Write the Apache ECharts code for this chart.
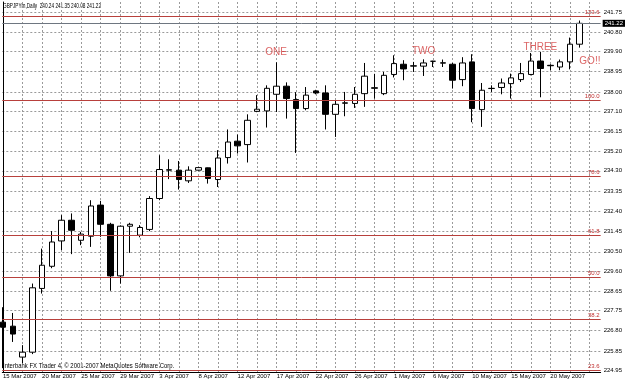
<!DOCTYPE html>
<html><head><meta charset="utf-8">
<script src="https://cdn.jsdelivr.net/npm/echarts@6/dist/echarts.min.js"></script>
<style>html,body{margin:0;padding:0;background:#fff}#c{width:625px;height:384px}</style>
</head><body><div id="c"></div>
<script>
const dates = ['15 Mar 2007','16 Mar 2007','18 Mar 2007','19 Mar 2007','20 Mar 2007','21 Mar 2007','22 Mar 2007','23 Mar 2007','25 Mar 2007','26 Mar 2007','27 Mar 2007','28 Mar 2007','29 Mar 2007','30 Mar 2007',
'1 Apr 2007','2 Apr 2007','3 Apr 2007','4 Apr 2007','5 Apr 2007','6 Apr 2007','8 Apr 2007','9 Apr 2007','10 Apr 2007','11 Apr 2007','12 Apr 2007','13 Apr 2007','15 Apr 2007','16 Apr 2007','17 Apr 2007','18 Apr 2007','19 Apr 2007','20 Apr 2007','22 Apr 2007','23 Apr 2007','24 Apr 2007','25 Apr 2007','26 Apr 2007','27 Apr 2007','29 Apr 2007','30 Apr 2007',
'1 May 2007','2 May 2007','3 May 2007','4 May 2007','6 May 2007','7 May 2007','8 May 2007','9 May 2007','10 May 2007','11 May 2007','13 May 2007','14 May 2007','15 May 2007','16 May 2007','17 May 2007','18 May 2007','20 May 2007','21 May 2007','22 May 2007','23 May 2007'];
const opens  = [227.20,227.01,225.56,225.79,228.78,229.82,231.01,231.98,231.04,231.23,232.69,231.79,229.37,231.70,231.28,231.55,233.00,234.33,234.33,233.83,234.33,234.44,233.89,234.92,235.69,235.53,237.09,237.11,237.89,238.27,237.64,237.22,238.05,237.95,236.95,237.47,237.46,237.92,238.17,237.92,238.82,239.30,239.21,239.21,239.44,239.35,239.30,238.58,239.41,237.17,238.16,238.21,238.39,238.58,238.82,239.45,239.25,239.17,239.41,240.24];
const highs  = [227.90,227.63,226.12,229.01,230.65,231.47,232.22,232.30,231.43,232.92,232.89,231.86,231.74,231.86,231.75,233.11,235.03,234.84,234.76,234.51,234.47,234.45,235.27,236.24,236.00,236.95,237.85,238.31,239.39,238.45,237.99,238.23,238.10,238.31,237.61,238.00,238.23,239.36,238.85,238.94,239.72,239.49,239.41,239.53,239.46,239.52,239.36,239.63,239.77,238.42,238.31,238.63,238.86,239.36,239.83,239.88,239.30,239.52,240.55,241.35];
const lows   = [225.04,226.27,225.27,225.70,228.54,229.73,230.58,230.39,230.81,230.73,231.20,228.67,229.01,230.45,231.18,231.47,232.92,233.91,233.42,233.73,234.31,233.70,233.54,234.64,235.11,234.69,237.05,236.33,237.06,236.75,235.14,237.14,237.89,236.24,235.89,236.86,237.25,237.30,237.69,237.85,238.68,238.55,238.94,238.75,239.17,239.17,238.16,238.27,236.58,236.36,238.00,237.89,237.69,238.47,238.78,237.75,239.02,239.02,239.06,240.08];
const closes = [226.96,226.64,225.79,228.81,229.87,230.96,231.98,231.51,231.33,232.65,231.79,229.37,231.70,231.79,231.64,233.00,234.36,234.35,233.89,234.33,234.45,233.94,234.90,235.65,235.47,236.67,237.19,238.17,238.27,237.69,237.22,237.85,237.95,236.95,237.42,237.49,237.89,238.74,238.20,238.78,239.33,239.08,239.23,239.36,239.44,239.37,238.55,239.36,237.22,238.08,238.17,238.42,238.66,238.86,239.45,239.10,239.23,239.41,240.24,241.22];
const priceTicks = [224.95,225.85,226.80,227.75,228.65,229.60,230.50,231.45,232.40,233.35,234.30,235.20,236.15,237.10,238.00,238.95,239.90,240.80,241.75];
const dateLabelIdx = [0,4,8,12,16,20,24,28,32,36,40,44,48,52,56];
const gridIdx = [2,4,6,8,10,12,14,16,18,20,22,24,26,28,30,32,34,36,38,40,42,44,46,48,50,52,54,56,58,60];
const fibLabels = ['123.6','100.0','78.6','61.8','50.0','38.2','23.6'];
const fibPrices = [241.55,237.62,234.06,231.26,229.30,227.33,224.92];
const bidPrice = 241.22;
const noteTexts = ['ONE','TWO','THREE','GO!!'];
const noteBars = [27.94,43.04,54.98,60.05];
const notePrices = [239.87,239.90,240.08,239.44];
const headerText = 'GBPJPYm,Daily  240.24 241.35 240.08 241.22';
const footerText = 'Interbank FX Trader 4, \u00a9 2001-2007 MetaQuotes Software Corp.';

const FONT = "'Liberation Sans',Arial,sans-serif";
const gridLine = {show:true, lineStyle:{color:'#9a9a9a', width:1, type:[2,2]}};
const ohlc = opens.map((o,i)=>[i, o, closes[i], lows[i], highs[i]]);

const fibLines = fibPrices.map((p,i)=>({
  yAxis: p,
  lineStyle:{color:'#b8403c', width:1, type:'solid'},
  label:{show:true, position:'insideEndTop', formatter: fibLabels[i], color:'#c03030', fontSize:6, fontFamily:FONT, distance:1}
}));
const bidLine = {
  yAxis: bidPrice,
  lineStyle:{color:'#6e7680', width:1, type:'solid'},
  label:{show:true, position:'end', formatter: bidPrice.toFixed(2), color:'#fff', backgroundColor:'#000', padding:[1,2,0,2], fontSize:6, fontFamily:FONT, distance:2}
};

const chart = echarts.init(document.getElementById('c'), null, {renderer:'canvas'});
chart.setOption({
  animation:false,
  backgroundColor:'#fff',
  grid:{left:2, right:23, top:2, bottom:12, containLabel:false},
  xAxis:{type:'value', min:-0.071, max:61.15, position:'bottom',
    axisLine:{show:true, onZero:false, lineStyle:{color:'#000', width:1}},
    axisTick:{show:false, customValues:gridIdx},
    axisLabel:{show:true, customValues:dateLabelIdx, formatter:v=>dates[Math.round(v)]||'', align:'left', margin:1,
      fontSize:6, color:'#000', fontFamily:FONT, hideOverlap:false, showMinLabel:true, showMaxLabel:true},
    splitLine:gridLine},
  yAxis:{type:'value', position:'right', min:224.86, max:242.22,
    axisLine:{show:true, lineStyle:{color:'#000', width:1}},
    axisTick:{show:false, customValues:priceTicks},
    axisLabel:{show:true, customValues:priceTicks, formatter:v=>v.toFixed(2), margin:3, fontSize:6, color:'#000', fontFamily:FONT, hideOverlap:false, showMinLabel:true, showMaxLabel:true},
    splitLine:gridLine},
  graphic:[
    {type:'text', x:3, y:3, scaleX:0.67, style:{text:headerText, fontSize:7, fontFamily:FONT, fill:'#000'}},
    {type:'text', x:3, y:363, scaleX:0.85, style:{text:footerText, fontSize:7, fontFamily:FONT, fill:'#000'}}
  ],
  series:[
    {type:'candlestick', layout:'horizontal', data:ohlc, barWidth:6,
      itemStyle:{color:'#fff', color0:'#000', borderColor:'#000', borderColor0:'#000', borderWidth:1},
      markLine:{silent:true, symbol:['none','none'], animation:false, data:[...fibLines, bidLine]}},
    {type:'scatter', symbol:'circle', symbolSize:1, itemStyle:{color:'rgba(0,0,0,0)'},
      data: noteTexts.map((t,i)=>({name:t, value:[noteBars[i], notePrices[i]]})),
      label:{show:true, position:'inside', formatter:'{b}', color:'#d23c3c', fontSize:10, fontFamily:"'Liberation Sans',Arial,sans-serif"}}
  ]
});
</script></body></html>
